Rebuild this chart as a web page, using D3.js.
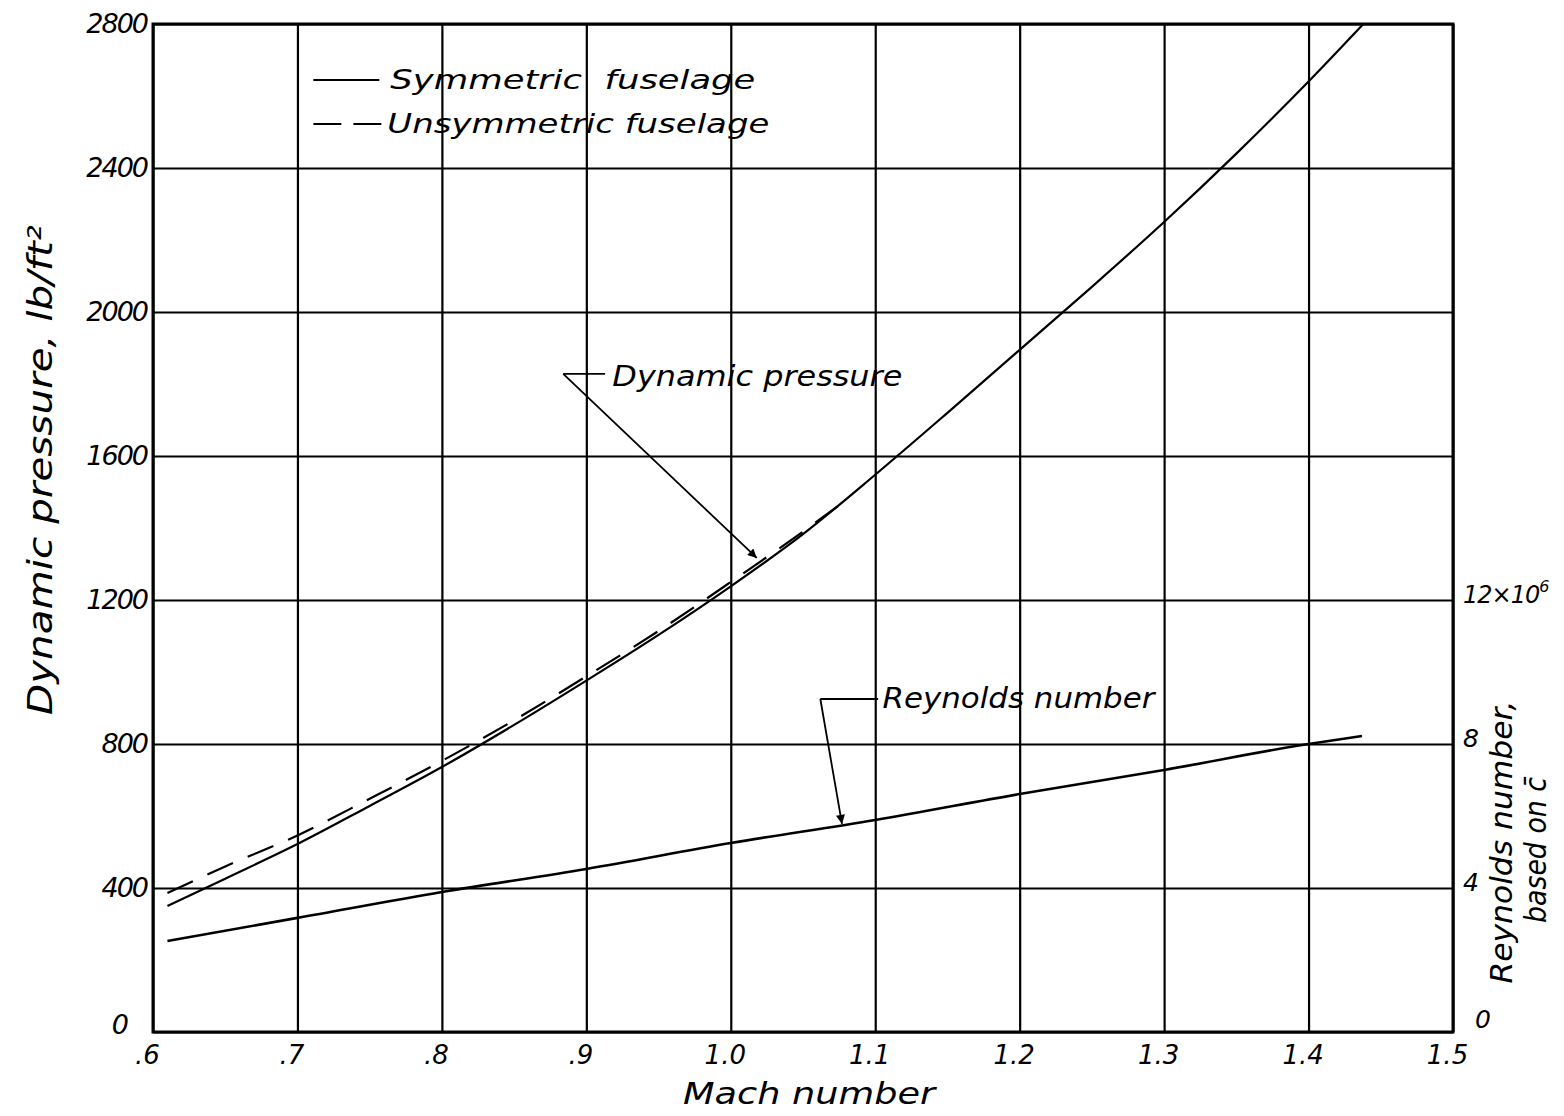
<!DOCTYPE html>
<html>
<head>
<meta charset="utf-8">
<script src="https://cdn.jsdelivr.net/npm/d3@7"></script>
<style>
  body { margin: 0; background: #fff; }
  svg text { font-family: "DejaVu Sans", sans-serif; font-style: italic; fill: #000; }
</style>
</head>
<body>
<svg id="chart" width="1564" height="1116"></svg>
<script>
(() => {
    // values
    const machTicks = [0.6, 0.7, 0.8, 0.9, 1.0, 1.1, 1.2, 1.3, 1.4, 1.5];
    const machTickLabels = [".6", ".7", ".8", ".9", "1.0", "1.1", "1.2", "1.3", "1.4", "1.5"];
    const qTicks = [0, 400, 800, 1200, 1600, 2000, 2400, 2800];
    const reTicks = [0, 4, 8, 12];

    // dynamic pressure, symmetric fuselage (solid)
    const machSym = [0.61, 0.65, 0.70, 0.75, 0.80, 0.85, 0.90, 0.95, 1.00, 1.05, 1.10, 1.15, 1.20, 1.25, 1.30, 1.35, 1.40, 1.438];
    const qSym = [350, 426, 522, 628, 736, 853, 976, 1103, 1238, 1383, 1548, 1720, 1895, 2070, 2250, 2440, 2640, 2800];

    // dynamic pressure, unsymmetric fuselage (dashed)
    const machUnsym = [0.61, 0.65, 0.70, 0.75, 0.80, 0.85, 0.90, 0.95, 1.00, 1.05, 1.08];
    const qUnsym = [386, 460, 546, 648, 753, 866, 988, 1114, 1250, 1390, 1478];

    // Reynolds number (millions), right axis
    const machRe = [0.61, 0.70, 0.80, 0.90, 1.00, 1.10, 1.20, 1.30, 1.40, 1.437];
    const reValues = [2.53, 3.17, 3.89, 4.53, 5.25, 5.89, 6.61, 7.28, 8.0, 8.22];

    const svg = d3.select("svg#chart");
    const margin = {left: 153, top: 24};
    const width = 1300;
    const height = 1008;

    const x = d3.scaleLinear().domain([0.6, 1.5]).range([0, width]);
    const y = d3.scaleLinear().domain([0, 2800]).range([height, 0]);
    const yRe = d3.scaleLinear().domain([0, 28]).range([height, 0]);

    const chart = svg.append("g")
        .attr("transform", `translate(${margin.left}, ${margin.top})`);

    // grid
    chart.append("g")
        .attr("class", "grid")
        .attr("transform", `translate(0, ${height})`)
        .call(d3.axisBottom(x).tickValues(machTicks).tickSize(-height).tickFormat(""))
        .call(g => g.select(".domain").remove())
        .selectAll("line").attr("stroke", "#000").attr("stroke-width", 2.2);

    chart.append("g")
        .attr("class", "grid")
        .call(d3.axisLeft(y).tickValues(qTicks).tickSize(-width).tickFormat(""))
        .call(g => g.select(".domain").remove())
        .selectAll("line").attr("stroke", "#000").attr("stroke-width", 2.2);

    // frame
    chart.append("rect")
        .attr("x", 0).attr("y", 0)
        .attr("width", width).attr("height", height)
        .attr("fill", "none").attr("stroke", "#000").attr("stroke-width", 3);

    // tick labels
    const xAxis = chart.append("g")
        .attr("transform", `translate(0, ${height})`)
        .call(d3.axisBottom(x).tickValues(machTicks).tickSize(0).tickPadding(14)
            .tickFormat((d, i) => machTickLabels[i]));
    xAxis.select(".domain").remove();
    xAxis.selectAll("text")
        .attr("font-size", 26)
        .attr("dx", -6)
        .style("font-family", "'DejaVu Sans', sans-serif");

    const yAxis = chart.append("g")
        .call(d3.axisLeft(y).tickValues(qTicks).tickSize(0).tickPadding(6).tickFormat(d3.format("d")));
    yAxis.select(".domain").remove();
    yAxis.selectAll("text")
        .attr("font-size", 27)
        .attr("letter-spacing", -2)
        .style("font-family", "'DejaVu Sans', sans-serif")
        .attr("dx", d => d === 0 ? -20 : 0)
        .attr("dy", d => d === 0 ? "0.05em" : "0.32em");

    const reAxis = chart.append("g")
        .attr("transform", `translate(${width}, 0)`)
        .call(d3.axisRight(yRe).tickValues(reTicks).tickSize(0).tickPadding(10));
    reAxis.select(".domain").remove();
    reAxis.selectAll("text")
        .attr("font-size", 25)
        .style("font-family", "'DejaVu Sans', sans-serif")
        .attr("dx", d => d === 0 ? 12 : 0)
        .attr("dy", d => d === 0 ? "-0.2em" : "0.1em")
        .each(function(d) {
            if (d === 12) {
                const t = d3.select(this).text("12×10").attr("font-size", 24).attr("letter-spacing", -1);
                t.append("tspan").attr("font-size", 16).attr("dy", -11).text("6");
            }
        });

    // curves
    const line = d3.line()
        .x(d => x(d[0]))
        .curve(d3.curveMonotoneX);

    chart.append("path")
        .datum(d3.zip(machSym, qSym))
        .attr("d", line.y(d => y(d[1])))
        .attr("fill", "none").attr("stroke", "#000").attr("stroke-width", 2.2);

    chart.append("path")
        .datum(d3.zip(machUnsym, qUnsym))
        .attr("d", line.y(d => y(d[1])))
        .attr("fill", "none").attr("stroke", "#000").attr("stroke-width", 2.2)
        .attr("stroke-dasharray", "28,16");

    chart.append("path")
        .datum(d3.zip(machRe, reValues))
        .attr("d", line.y(d => yRe(d[1])))
        .attr("fill", "none").attr("stroke", "#000").attr("stroke-width", 2.6);

    // arrow marker
    svg.append("defs").append("marker")
        .attr("id", "arrow")
        .attr("viewBox", "0 0 10 10")
        .attr("refX", 10).attr("refY", 5)
        .attr("markerWidth", 14).attr("markerHeight", 9)
        .attr("markerUnits", "userSpaceOnUse")
        .attr("orient", "auto")
        .append("path")
        .attr("d", "M0,0 L10,5 L0,10 z")
        .attr("fill", "#000");

    // annotations (data coordinates)
    const leader = (pts, label, tx, ty, tlen) => {
        chart.append("path")
            .attr("d", d3.line()(pts.map(p => [x(p[0]), y(p[1])])))
            .attr("fill", "none").attr("stroke", "#000").attr("stroke-width", 1.8);
        chart.append("text")
            .attr("x", x(tx)).attr("y", y(ty))
            .attr("font-size", 28)
            .attr("textLength", tlen).attr("lengthAdjust", "spacingAndGlyphs")
            .text(label);
    };

    leader([[0.913, 1828], [0.884, 1828]], "Dynamic pressure", 0.918, 1795, 290);
    chart.append("line")
        .attr("x1", x(0.884)).attr("y1", y(1828))
        .attr("x2", x(1.018)).attr("y2", y(1317))
        .attr("stroke", "#000").attr("stroke-width", 1.8)
        .attr("marker-end", "url(#arrow)");

    leader([[1.102, 925], [1.062, 925]], "Reynolds number", 1.105, 900, 272);
    chart.append("line")
        .attr("x1", x(1.062)).attr("y1", y(925))
        .attr("x2", x(1.077)).attr("y2", y(578))
        .attr("stroke", "#000").attr("stroke-width", 1.8)
        .attr("marker-end", "url(#arrow)");

    // legend
    const legend = chart.append("g").attr("transform", `translate(${x(0.711)}, 0)`);
    legend.append("line")
        .attr("x1", 0).attr("x2", 66).attr("y1", 56).attr("y2", 56)
        .attr("stroke", "#000").attr("stroke-width", 2.2);
    legend.append("text")
        .attr("x", 77).attr("y", 65).attr("font-size", 27)
        .attr("textLength", 365).attr("lengthAdjust", "spacingAndGlyphs")
        .text("Symmetric  fuselage").style("white-space", "pre");
    legend.append("line")
        .attr("x1", 0).attr("x2", 68).attr("y1", 100).attr("y2", 100)
        .attr("stroke", "#000").attr("stroke-width", 2.2)
        .attr("stroke-dasharray", "28,12");
    legend.append("text")
        .attr("x", 74).attr("y", 109).attr("font-size", 27)
        .attr("textLength", 382).attr("lengthAdjust", "spacingAndGlyphs")
        .text("Unsymmetric fuselage");

    // axis titles
    svg.append("text")
        .attr("x", 683).attr("y", 1104)
        .attr("font-size", 31)
        .attr("textLength", 252).attr("lengthAdjust", "spacingAndGlyphs")
        .text("Mach number");

    svg.append("text")
        .attr("transform", "translate(52, 470) rotate(-90)")
        .attr("text-anchor", "middle")
        .attr("font-size", 34)
        .attr("textLength", 490).attr("lengthAdjust", "spacingAndGlyphs")
        .text("Dynamic pressure, lb/ft²");

    svg.append("text")
        .attr("transform", "translate(1512, 842) rotate(-90)")
        .attr("text-anchor", "middle")
        .attr("font-size", 30)
        .attr("textLength", 283).attr("lengthAdjust", "spacingAndGlyphs")
        .text("Reynolds number,");

    svg.append("text")
        .attr("transform", "translate(1546, 850) rotate(-90)")
        .attr("text-anchor", "middle")
        .attr("font-size", 30)
        .attr("textLength", 146).attr("lengthAdjust", "spacingAndGlyphs")
        .text("based on c\u0304");
})();
</script>
</body>
</html>
